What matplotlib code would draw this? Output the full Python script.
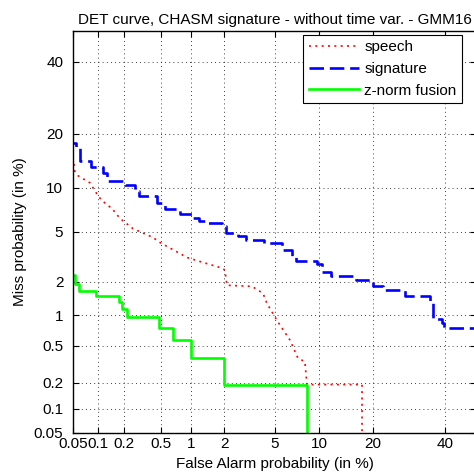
import numpy as np
import matplotlib
matplotlib.use("Agg")
import matplotlib.pyplot as plt
from statistics import NormalDist

plt.rcParams['font.family'] = ['Liberation Sans', 'DejaVu Sans']

# ticks (in %)
tick_vals = [0.05, 0.1, 0.2, 0.5, 1, 2, 5, 10, 20, 40]
tick_labels = ['0.05', '0.1', '0.2', '0.5', '1', '2', '5', '10', '20', '40']

# speech (polyline), false alarm % / miss %
speech_fa = [0.048, 0.0515, 0.0515, 0.058, 0.081, 0.101, 0.113, 0.148, 0.183, 0.255,
             0.418, 0.494, 0.914, 1.21, 1.94, 2.02, 2.10, 3.37, 4.10, 4.39,
             5.21, 6.44, 7.30, 8.12, 8.37, 17.6, 17.6]
speech_miss = [14.8, 14.4, 12.8, 11.8, 10.7, 8.9, 8.25, 7.30, 6.24, 5.29,
               4.55, 4.17, 3.19, 2.96, 2.60, 2.50, 1.87, 1.83, 1.59, 1.29,
               0.89, 0.57, 0.37, 0.34, 0.19, 0.19, 0.0]

# signature (steps)
sig_fa = [0.04, 0.055, 0.061, 0.083, 0.116, 0.13, 0.21, 0.27, 0.30, 0.46,
          0.55, 0.78, 1.02, 1.19, 1.40, 1.90, 2.06, 2.60, 3.02, 4.17,
          5.66, 6.65, 7.08, 9.7, 10.4, 11.8, 16.3, 20.0, 22.4, 28.1,
          35.3, 36.3, 39.0, 39.7, 60.0]
sig_miss = [18.0, 17.0, 14.4, 13.2, 12.3, 11.0, 10.4, 9.56, 8.9, 8.0,
            7.2, 6.75, 6.34, 6.04, 5.84, 5.56, 4.95, 4.63, 4.32, 4.10,
            3.62, 3.25, 2.96, 2.85, 2.41, 2.23, 2.06, 1.83, 1.69, 1.49,
            1.32, 0.93, 0.84, 0.75, 0.75]

# z-norm fusion (steps)
fus_fa = [0.045, 0.053, 0.060, 0.096, 0.178, 0.19, 0.22, 0.48, 0.67, 1.0, 1.98, 8.37]
fus_miss = [2.27, 1.90, 1.65, 1.49, 1.32, 1.135, 0.955, 0.75, 0.57, 0.37, 0.19, 0.0]

nd = NormalDist()
_ppf = np.vectorize(lambda p: nd.inv_cdf(p) if p == p else np.nan, otypes=[float])
_cdf = np.vectorize(lambda z: nd.cdf(z) if z == z else np.nan, otypes=[float])


def fwd(p):
    p = np.clip(np.asarray(p, dtype=float) / 100.0, 1e-7, 1 - 1e-7)
    return _ppf(p)


def inv(z):
    return _cdf(np.asarray(z, dtype=float)) * 100.0


fig = plt.figure(figsize=(4.74, 4.76), dpi=100)
ax = fig.add_axes([73 / 474, 43 / 476, 403 / 474, 402 / 476])
ax.set_xscale('function', functions=(fwd, inv))
ax.set_yscale('function', functions=(fwd, inv))

ax.plot(speech_fa, speech_miss, color='#ff0000', lw=1.2, dashes=(1.2, 2.6), label='speech')
ax.plot(sig_fa, sig_miss, color='#0000ff', lw=1.9, dashes=(5.5, 2.2),
        drawstyle='steps-post', label='signature')
ax.plot(fus_fa, fus_miss, color='#00ff00', lw=1.9, drawstyle='steps-post',
        label='z-norm fusion')

ax.set_xlim(0.05, 50)
ax.set_ylim(0.05, 50)
ax.set_xticks(tick_vals, tick_labels)
ax.set_yticks(tick_vals, tick_labels)
ax.minorticks_off()
ax.tick_params(direction='in', top=True, right=True, length=4, width=0.8,
               labelsize=11, colors='k')
ax.tick_params(axis='y', pad=7)
ax.tick_params(axis='x', pad=3)
ax.grid(True, color='k', lw=0.6, linestyle=(0, (1, 4)))
for s in ax.spines.values():
    s.set_linewidth(1.0)

ax.set_title('DET curve, CHASM signature - without time var. - GMM16', fontsize=11, pad=5)
ax.set_xlabel('False Alarm probability (in %)', fontsize=11, labelpad=4)
ax.set_ylabel('Miss probability (in %)', fontsize=11, labelpad=5)

leg = ax.legend(loc='upper right', bbox_to_anchor=((462 - 73) / 403, (433 - 35) / 402),
                borderaxespad=0, fancybox=False, edgecolor='k', framealpha=1,
                fontsize=11, handlelength=3.3, handletextpad=0.35, labelspacing=0.5,
                borderpad=0.35)
leg.get_frame().set_linewidth(0.8)

fig.savefig('out.png', dpi=100)
